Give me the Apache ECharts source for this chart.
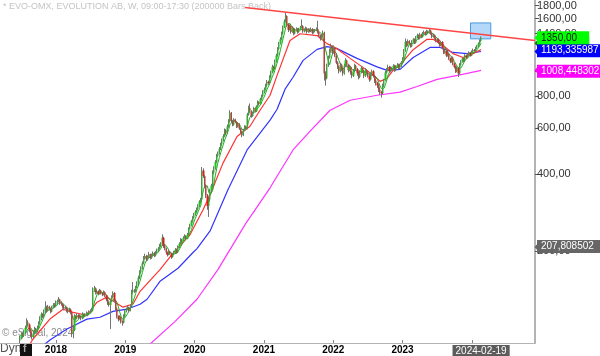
<!DOCTYPE html>
<html><head><meta charset="utf-8">
<script src="https://cdn.jsdelivr.net/npm/echarts@6/dist/echarts.min.js"></script>
<style>html,body{margin:0;padding:0;background:#fff}#c{width:600px;height:356px}</style>
</head><body><div id="c"></div>
<script>
// ---- data (weekly bars, first bar week of 2017-06-26) ----
const startDate = '2017-06-26';
const firstOpen = 90;
const closes = [
92,95,94,97,101,106,104,99,95,93,96,100,98,101,105,110,114,112,117,121,118,122,120,117,121,124,123,126,
128,130,126,125,122,120,121,118,117,119,116,96,99,112,110,113,111,112,110,114,112,113,115,114,116,
117,118,141,144,139,140,137,141,138,136,139,135,130,126,124,128,133,138,129,120,112,109,111,107,106,112,117,
119,121,118,122,139,141,140,145,150,158,166,172,180,188,192,186,190,195,189,193,197,193,198,201,205,210,
214,226,210,205,198,194,200,196,190,194,199,203,198,208,214,222,218,226,230,224,232,245,252,262,270,278,
285,292,300,312,318,412,392,360,330,300,318,345,360,405,420,445,470,480,500,520,540,560,590,575,610,640,
690,640,620,650,635,610,625,600,580,565,590,610,600,680,720,700,670,690,720,700,730,760,745,780,800,830,
850,880,910,900,950,990,1040,1020,1090,1150,1220,1280,1330,1400,1480,1560,1640,1520,1450,1500,1420,1470,1400,1440,1460,1420,1450,1480,1500,1430,1440,1470,1420,1450,1430,1460,1410,1440,1440,1460,1420,1380,1340,1370,1410,980,940,1050,1130,1200,1250,1180,
1230,1150,1080,1040,1000,1060,1020,980,1050,1100,1060,1010,1040,990,960,1000,1050,1020,980,950,990,1030,1000,960,1010,990,960,930,970,1000,960,920,900,880,850,830,820,880,920,990,1010,1040,1000,1030,1020,1050,1010,1040,1060,1030,1050,1080,
1120,1200,1300,1260,1310,1280,1250,1300,1330,1290,1350,1380,1340,1390,1360,1400,1420,1390,1430,1410,1440,1400,1360,1380,1340,1310,1330,1290,1260,1300,1230,1180,1200,1150,1170,1120,1090,1130,1070,1040,1000,1030,980,1060,1090,1120,1100,1150,1130,1160,1180,1150,1190,1210,1200,1230,1250,1280,1310,1350
];
const highs = [
94,97,97,99,103,110,108,105,100,97,98,102,101,103,107,112,116,115,119,128,123,124,123,121,123,126,126,129,
130,133,131,128,126,124,123,122,120,121,120,117,103,114,113,115,114,114,113,116,115,115,117,116,118,
119,121,145,147,145,142,141,143,142,139,141,140,136,132,128,130,135,140,139,130,121,113,113,112,108,114,119,
121,123,122,124,142,152,143,147,153,161,169,175,183,192,196,194,193,199,196,196,200,199,201,205,208,214,
217,233,228,212,207,200,203,201,198,197,201,206,204,211,217,225,224,229,233,231,236,248,256,265,274,282,
289,296,305,316,323,425,420,395,364,334,322,350,366,412,428,452,478,488,508,528,548,570,600,596,622,652,
706,695,648,658,655,640,632,628,605,585,598,618,615,690,735,750,706,698,728,725,738,770,765,790,812,845,
865,895,925,920,965,1005,1060,1050,1110,1170,1240,1300,1355,1425,1505,1590,1690,1650,1535,1520,1510,1495,1480,1465,1480,1470,1475,1500,1590,1510,1460,1490,1480,1470,1465,1480,1470,1460,1460,1480,1570,1430,1390,1395,1440,1425,1000,1070,1150,1225,1280,1260,
1260,1240,1165,1095,1050,1080,1070,1035,1070,1125,1110,1070,1060,1050,1005,1020,1070,1060,1030,995,1010,1050,1040,1010,1030,1020,1000,975,990,1015,1010,970,935,910,890,865,840,895,935,1005,1030,1060,1050,1045,1040,1065,1060,1055,1075,1070,1065,1095,
1135,1220,1340,1310,1330,1320,1290,1320,1345,1340,1370,1400,1390,1410,1400,1420,1440,1430,1450,1440,1460,1450,1410,1400,1390,1350,1345,1340,1300,1315,1310,1240,1220,1210,1190,1180,1130,1145,1140,1080,1050,1045,1040,1075,1105,1135,1130,1165,1160,1175,1195,1190,1205,1225,1220,1245,1265,1295,1330,1365
];
const lows = [
88,91,92,93,96,100,102,97,93,91,92,95,96,97,100,104,108,110,111,115,116,117,118,115,116,120,121,122,
125,127,124,123,120,118,119,116,115,116,114,93,92,98,108,109,109,110,108,109,110,111,112,112,113,
115,116,117,139,136,137,135,136,136,134,135,133,128,124,122,100,127,132,127,118,110,107,108,105,103,105,111,
116,118,116,117,121,137,138,139,144,148,156,164,170,178,186,183,184,188,186,187,191,190,191,196,199,203,
208,212,206,202,195,191,193,194,187,189,193,197,196,197,206,213,215,217,224,221,223,230,243,250,259,268,
275,282,289,297,308,315,385,352,322,290,272,312,340,355,398,415,440,464,475,494,514,534,555,566,570,604,
632,630,612,615,628,602,605,592,572,555,560,585,592,595,672,690,660,665,684,692,695,724,738,740,772,795,
820,845,870,885,895,940,980,1000,1015,1080,1140,1210,1270,1320,1390,1470,1550,1490,1420,1440,1400,1410,1380,1390,1425,1400,1410,1440,1470,1410,1415,1430,1400,1410,1415,1420,1390,1400,1420,1430,1400,1360,1316,1330,1360,920,880,930,1040,1120,1180,1160,
1170,1135,1065,1020,980,990,1000,960,970,1040,1045,990,1000,970,940,950,990,1005,960,930,940,980,985,940,950,970,945,910,920,960,945,900,880,860,830,810,790,815,870,915,980,1000,985,990,1005,1010,995,1000,1030,1015,1020,1040,
1070,1110,1190,1240,1250,1265,1235,1240,1290,1275,1280,1340,1325,1330,1345,1350,1390,1375,1380,1395,1400,1385,1345,1350,1325,1295,1300,1275,1245,1250,1215,1165,1170,1135,1140,1105,1075,1080,1055,1025,985,990,950,970,1050,1080,1085,1090,1115,1120,1150,1140,1145,1180,1190,1195,1220,1240,1270,1300
];
// moving averages
const redMA = [['2017-08-17',87.4],['2017-09-02',91.4],['2017-11-30',109.2],['2018-02-07',119.3],['2018-04-01',116],['2018-06-13',113],['2018-08-05',127],['2018-09-27',133],['2018-11-08',127],['2018-12-20',121.5],['2019-02-11',125],['2019-03-20',140],['2019-07-03',170],['2019-09-10',197],['2019-12-08',232],['2020-02-15',290],['2020-03-23',332],['2020-05-30',440],['2020-08-12',558],['2020-10-19',612],['2020-12-11',706],['2021-02-02',807],['2021-03-11',964],['2021-05-18',1316],['2021-07-10',1398],['2021-10-08',1376],['2021-11-29',1280],['2022-01-21',1224],['2022-03-31',1122],['2022-06-28',1008],['2022-09-05',914],['2022-10-12',940],['2022-11-12',1008],['2023-01-04',1093],['2023-02-26',1213],['2023-05-10',1330],['2023-06-11',1330],['2023-08-03',1259],['2023-09-24',1171],['2023-11-16',1131],['2024-01-08',1171],['2024-02-19',1214]];
const blueMA = [['2017-11-04',87.4],['2017-11-30',90.6],['2018-02-28',99.9],['2018-06-13',109.2],['2018-08-21',111],['2018-10-28',117],['2019-01-10',119.3],['2019-03-20',124.7],['2019-04-26',130.4],['2019-07-03',153],['2019-08-09',160],['2019-10-06',172],['2019-12-24',198],['2020-01-14',205],['2020-03-23',240],['2020-06-25',347],['2020-10-04',495],['2021-02-02',646],['2021-03-11',712],['2021-04-22',852],['2021-06-03',948],['2021-07-26',1102],['2021-10-08',1216],['2021-11-29',1247],['2022-01-21',1224],['2022-05-06',1122],['2022-08-20',1040],['2022-10-12',1008],['2022-12-19',1017],['2023-02-26',1131],['2023-05-26',1237],['2023-07-18',1237],['2023-09-24',1183],['2023-12-07',1171],['2024-02-19',1193.335987]];
const magentaMA = [['2019-05-12',87.4],['2019-09-21',107],['2020-01-14',130.4],['2020-05-04',170.2],['2020-09-23',254],['2021-02-02',353],['2021-06-03',495],['2021-09-01',586],['2021-12-15',706],['2022-03-31',772],['2022-08-20',807],['2022-12-19',830],['2023-03-19',873],['2023-07-02',930],['2023-10-31',968],['2024-02-19',1008.448302]];
const greenPeriod = 5;
const trendLine = [['2020-09-23',1766],['2024-11-29',1316]];
const boxDates = ['2023-12-25','2024-04-10'];
const boxValues = [1540,1336];
const yTicks = [200,400,600,800,1000,1200,1400,1600,1800];
const yearTicks = ['2018-01-01','2019-01-01','2020-01-01','2021-01-01','2022-01-01','2023-01-01','2024-01-01'];
const yearLabels = ['2018-01-01','2019-01-01','2020-01-01','2021-01-01','2022-01-01','2023-01-01'];
const lastDateLabel = '2024-02-19';
const xRange = ['2017-03-12','2024-11-29'];
const yRange = [88.2,1878];
const tagValues = {price:1350, green:1284, blue:1193.335987, magenta:1008.448302, gray:207.808502};
const titleText = '* EVO-OMX, EVOLUTION AB, W, 09:00-17:30 (200000 Bars Back)';

// ---- build ----
const L = v => Math.log10(v);
const DAY = 86400000;
const t = s => Date.parse(s + 'T00:00:00Z');
const t0 = t(startDate);
const fmt = v => v.toFixed(2).replace('.', ',');
const fmtTag = v => String(v).replace('.', ',');
const FONT = 'Liberation Sans, Arial, sans-serif';

const candleData = closes.map((c, i) => {
  const o = i === 0 ? firstOpen : closes[i - 1];
  return [t0 + i * 7 * DAY, L(o), L(c), L(lows[i]), L(highs[i])];
});
const greenData = [];
for (let i = greenPeriod - 1; i < closes.length; i++) {
  let s = 0; for (let k = 0; k < greenPeriod; k++) s += closes[i - k];
  greenData.push([t0 + i * 7 * DAY, L(s / greenPeriod)]);
}
const toLine = arr => arr.map(p => [t(p[0]), L(p[1])]);
const tagList = [
  [tagValues.gray, fmtTag(tagValues.gray), '#666666', '#fff'],
  [tagValues.green, fmt(tagValues.green), '#0a7a0a', '#fff'],
  [tagValues.magenta, fmtTag(tagValues.magenta), '#ff00ff', '#fff'],
  [tagValues.blue, fmtTag(tagValues.blue), '#0000ff', '#fff'],
  [tagValues.price, fmt(tagValues.price), '#00ff00', '#111']
];
function tag(row) {
  return {yAxis: L(row[0]), label: {show: true, position: 'end', distance: 2, formatter: row[1],
    backgroundColor: row[2], color: row[3], fontSize: 10, fontFamily: FONT, padding: [1, 12, 1, 4], lineHeight: 11}};
}
function notch(row) {
  return {coord: [t(xRange[1]), L(row[0])], symbol: 'triangle', symbolRotate: 90, symbolSize: [11, 5],
    symbolOffset: [2, 0], itemStyle: {color: row[2]}, label: {show: false}};
}

const chart = echarts.init(document.getElementById('c'), null, {renderer: 'canvas'});
chart.setOption({
  animation: false,
  backgroundColor: '#fff',
  grid: {left: 0, right: 65, top: 0, bottom: 12, containLabel: false},
  xAxis: [{
    type: 'value', min: t(xRange[0]), max: t(xRange[1]),
    axisLine: {show: true, onZero: false, lineStyle: {color: '#b4b4b4', width: 1}},
    axisTick: {show: false}, axisLabel: {show: false}, splitLine: {show: false}
  }, {
    type: 'value', position: 'bottom', min: t(xRange[0]), max: t(xRange[1]),
    axisLine: {show: false},
    axisTick: {show: true, inside: true, length: 3, customValues: yearTicks.map(t), lineStyle: {color: '#888'}},
    splitLine: {show: false},
    axisLabel: {
      customValues: yearLabels.map(t).concat([t(lastDateLabel)]),
      margin: 2,
      formatter: v => v === t(lastDateLabel) ? '{hl|' + lastDateLabel + '}' : '{yr|' + new Date(v).getUTCFullYear() + '}',
      rich: {
        yr: {fontSize: 10, fontWeight: 'bold', color: '#000', fontFamily: FONT},
        hl: {fontSize: 10, color: '#fff', backgroundColor: '#5c5c5c', padding: [1, 3, 0, 3], fontFamily: FONT}
      }
    }
  }],
  yAxis: {
    type: 'value', position: 'right', min: L(yRange[0]), max: L(yRange[1]),
    axisLine: {show: true, lineStyle: {color: '#b4b4b4', width: 2}},
    axisTick: {show: true, length: 4, customValues: yTicks.map(L), lineStyle: {color: '#555'}},
    splitLine: {show: false},
    axisLabel: {customValues: yTicks.map(L), formatter: v => fmt(Math.pow(10, v)), color: '#333', fontSize: 11, fontFamily: FONT, margin: 2}
  },
  graphic: [
    {type: 'text', left: 3, top: 2, z: 0, style: {text: titleText, fill: '#c4c4c4', font: '9px ' + FONT}},
    {type: 'text', left: 2, top: 328, z: 0, style: {text: '\u00a9 eSignal, 2024', fill: '#8c8c8c', font: '10px ' + FONT}},
    {type: 'text', left: 0, top: 343, style: {text: 'Dyn', fill: '#555', font: '12px ' + FONT}},
    {type: 'rect', left: 20, top: 343, shape: {width: 12, height: 13}, style: {fill: '#111'}},
    {type: 'text', left: 23, top: 344, style: {text: 'f', fill: '#aaa', font: 'bold 10px ' + FONT}}
  ],
  series: [
    {type: 'line', name: 'magenta', data: toLine(magentaMA), symbol: 'none', lineStyle: {color: '#ff33ff', width: 1.2}, z: 3},
    {type: 'line', name: 'blue', data: toLine(blueMA), symbol: 'none', lineStyle: {color: '#3333ff', width: 1.2}, z: 3},
    {type: 'line', name: 'red', data: toLine(redMA), symbol: 'none', lineStyle: {color: '#ff3333', width: 1.2}, z: 3},
    {type: 'line', name: 'green', data: greenData, symbol: 'none', lineStyle: {color: '#22aa22', width: 1}, z: 3},
    {type: 'candlestick', name: 'wick', data: candleData, barWidth: 0.3, z: 4,
      itemStyle: {color: '#777', color0: '#777', borderColor: '#747474', borderColor0: '#747474', borderWidth: 1}},
    {type: 'candlestick', name: 'body', data: candleData, barWidth: 1.7, z: 5,
      itemStyle: {color: '#22c022', color0: '#d42020', borderColor: '#22c022', borderColor0: '#d42020', borderWidth: 0}},
    {type: 'line', name: 'trend', data: toLine(trendLine), symbol: 'none', lineStyle: {color: '#ff4444', width: 1.5}, z: 6,
      markArea: {silent: true, itemStyle: {color: 'rgba(130,190,245,0.6)', borderColor: '#4a9ae0', borderWidth: 1},
        data: [[{xAxis: t(boxDates[0]), yAxis: L(boxValues[0])}, {xAxis: t(boxDates[1]), yAxis: L(boxValues[1])}]]}},
    {type: 'line', name: 'tags', data: [], z: 10,
      markLine: {silent: true, symbol: 'none', lineStyle: {color: 'rgba(0,0,0,0)', width: 0}, animation: false,
        data: tagList.map(tag)},
      markPoint: {silent: true, animation: false, data: tagList.map(notch)}}
  ]
});
</script></body></html>
